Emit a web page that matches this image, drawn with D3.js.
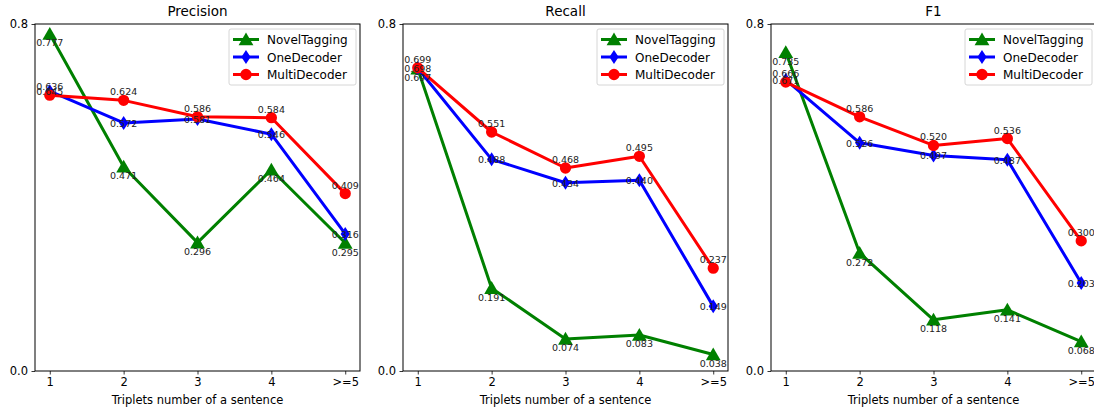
<!DOCTYPE html>
<html lang="en">
<head>
<meta charset="UTF-8">
<title>Precision / Recall / F1</title>
<script src="https://d3js.org/d3.v7.min.js"></script>
<style>
  body { margin: 0; background: #fff; font-family: "DejaVu Sans", sans-serif; }
  svg { display: block; }
  .ann { font-size: 9.5px; fill: #222; }
</style>
</head>
<body>
<svg width="1094" height="412"></svg>
<script>
// data
const categories = ["1", "2", "3", "4", ">=5"];
const panels = ["Precision", "Recall", "F1"];
const seriesNames = ["NovelTagging", "OneDecoder", "MultiDecoder"];

const novelPrecision = [0.777, 0.471, 0.296, 0.464, 0.295];
const onePrecision   = [0.645, 0.572, 0.581, 0.546, 0.316];
const multiPrecision = [0.636, 0.624, 0.586, 0.584, 0.409];

const novelRecall = [0.697, 0.191, 0.074, 0.083, 0.038];
const oneRecall   = [0.698, 0.488, 0.434, 0.440, 0.149];
const multiRecall = [0.699, 0.551, 0.468, 0.495, 0.237];

const novelF1 = [0.735, 0.272, 0.118, 0.141, 0.068];
const oneF1   = [0.671, 0.526, 0.497, 0.487, 0.203];
const multiF1 = [0.666, 0.586, 0.520, 0.536, 0.300];

const yTicks = [0.0, 0.8];

const panelData = [
  [novelPrecision, onePrecision, multiPrecision],
  [novelRecall, oneRecall, multiRecall],
  [novelF1, oneF1, multiF1]
];

const colors = ["#008000", "#0000ff", "#ff0000"];
// thin diamond like matplotlib's 'd'
const thinDiamond = {
  draw(ctx) {
    ctx.moveTo(0, -7); ctx.lineTo(4.6, 0); ctx.lineTo(0, 7); ctx.lineTo(-4.6, 0); ctx.closePath();
  }
};
const symbols = [d3.symbolTriangle, thinDiamond, d3.symbolCircle];
const symSize = [95, 64, 100];
// label offset (baseline relative to point): NovelTagging below, OneDecoder on, MultiDecoder above
const labelDy = [9, 0.5, -8.5];

const svg = d3.select("svg");
const lefts = [35, 403, 771];
const pw = 325, plotTop = 24, plotBottom = 371;

function markTransform(si, px, py) {
  let t = `translate(${px},${py})`;
  if (si === 0) t += " translate(0,1.5)";
  return t;
}

panels.forEach((title, pi) => {
  const g = svg.append("g");
  const x = d3.scaleLinear().domain([0.8, 5.2]).range([lefts[pi], lefts[pi] + pw]);
  const y = d3.scaleLinear().domain([0, 0.8]).range([plotBottom, plotTop]);

  // axes
  g.append("g").attr("transform", `translate(0,${plotBottom})`)
    .call(d3.axisBottom(x).tickValues([1, 2, 3, 4, 5]).tickFormat((d, i) => categories[i])
      .tickSizeOuter(0).tickSize(3.5).tickPadding(3.5))
    .call(a => a.select(".domain").remove());
  g.append("g").attr("transform", `translate(${lefts[pi]},0)`)
    .call(d3.axisLeft(y).tickValues(yTicks).tickFormat(d3.format(".1f"))
      .tickSizeOuter(0).tickSize(3.5).tickPadding(3.5))
    .call(a => a.select(".domain").remove());
  g.selectAll(".tick line").attr("stroke", "#000").attr("stroke-width", 0.8);
  g.selectAll(".tick text").attr("font-family", "DejaVu Sans").attr("font-size", 11.5).attr("fill", "#000");

  g.append("rect")
    .attr("x", lefts[pi]).attr("y", plotTop)
    .attr("width", pw).attr("height", plotBottom - plotTop)
    .attr("fill", "none").attr("stroke", "#000").attr("stroke-width", 1);

  g.append("text")
    .attr("x", lefts[pi] + pw / 2).attr("y", 16)
    .attr("text-anchor", "middle").attr("font-size", 13.5)
    .text(title);

  g.append("text")
    .attr("x", lefts[pi] + pw / 2).attr("y", 404)
    .attr("text-anchor", "middle").attr("font-size", 11.5)
    .text("Triplets number of a sentence");

  const line = d3.line().x((d, i) => x(i + 1)).y(d => y(d));

  panelData[pi].forEach((vals, si) => {
    g.append("path")
      .attr("d", line(vals))
      .attr("fill", "none").attr("stroke", colors[si])
      .attr("stroke-width", 3).attr("stroke-linejoin", "round");
    g.selectAll(null).data(vals).enter().append("path")
      .attr("d", d3.symbol().type(symbols[si]).size(symSize[si]))
      .attr("transform", (d, i) => markTransform(si, x(i + 1), y(d)))
      .attr("fill", colors[si]);
  });

  panelData[pi].forEach((vals, si) => {
    g.selectAll(null).data(vals).enter().append("text")
      .attr("class", "ann")
      .attr("x", (d, i) => x(i + 1))
      .attr("y", d => y(d) + labelDy[si] + 3.5)
      .attr("text-anchor", "middle")
      .text(d => d3.format(".3f")(d));
  });

  // legend
  const lx = lefts[pi] + pw - 131, ly = plotTop + 5;
  const lg = g.append("g");
  lg.append("rect")
    .attr("x", lx).attr("y", ly).attr("width", 127).attr("height", 56)
    .attr("rx", 2).attr("fill", "#fff").attr("fill-opacity", 0.8)
    .attr("stroke", "#ccc").attr("stroke-width", 0.8);
  seriesNames.forEach((name, si) => {
    const yy = ly + 10.5 + si * 17.5;
    lg.append("line")
      .attr("x1", lx + 4).attr("x2", lx + 30).attr("y1", yy).attr("y2", yy)
      .attr("stroke", colors[si]).attr("stroke-width", 3);
    lg.append("path")
      .attr("d", d3.symbol().type(symbols[si]).size(symSize[si]))
      .attr("transform", markTransform(si, lx + 17, yy))
      .attr("fill", colors[si]);
    lg.append("text")
      .attr("x", lx + 38).attr("y", yy + 4.5)
      .attr("font-size", 12).text(name);
  });
});
</script>
</body>
</html>
